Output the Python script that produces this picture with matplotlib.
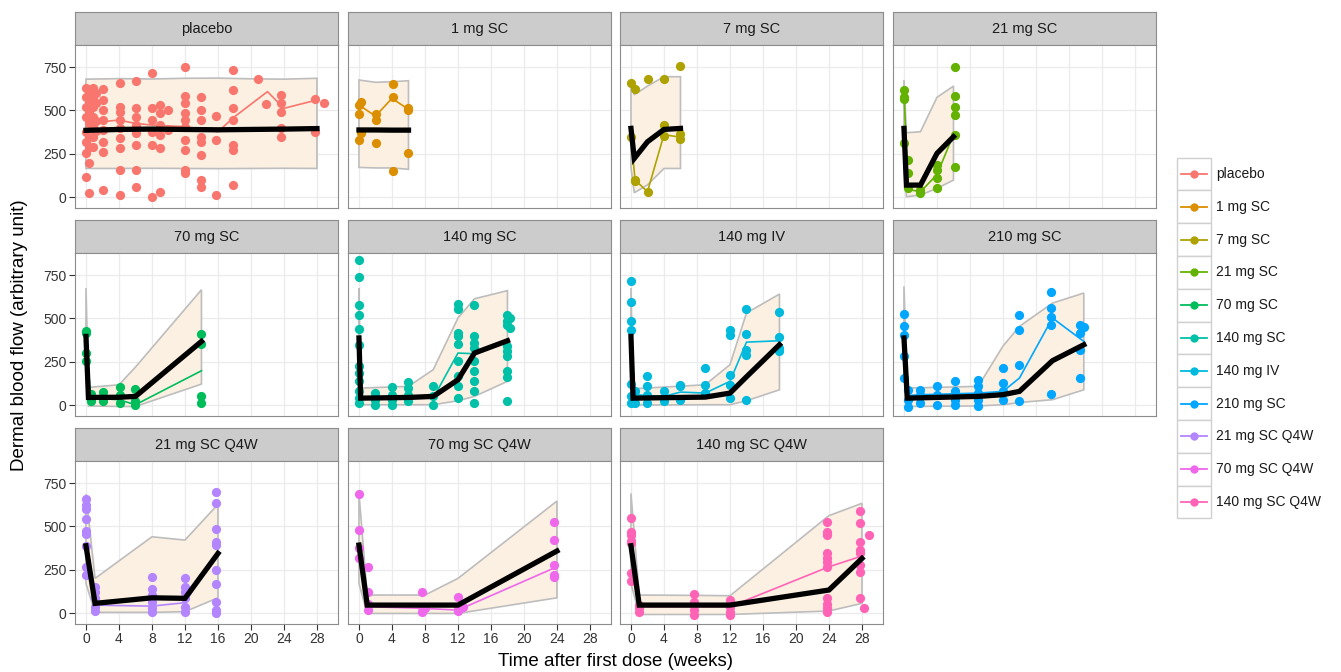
import matplotlib
matplotlib.use("Agg")
import matplotlib.pyplot as plt
from matplotlib.patches import Rectangle

plt.rcParams['font.family'] = ['Liberation Sans', 'DejaVu Sans']

# ---- groups / colours ---------------------------------------------------
groups = ['placebo', '1 mg SC', '7 mg SC', '21 mg SC', '70 mg SC', '140 mg SC',
          '140 mg IV', '210 mg SC', '21 mg SC Q4W', '70 mg SC Q4W', '140 mg SC Q4W']
colors = ['#F8766D', '#DB8E00', '#AEA200', '#64B200', '#00BD5C', '#00C1A7',
          '#00BADE', '#00A6FF', '#B385FF', '#EF67EB', '#FF63B6']

# ---- observed points: time (weeks) -> values ----------------------------
pts_placebo = {
    0.0: [627, 579, 521, 463, 377, 319, 252, 117],
    0.4: [608, 550, 492, 425, 348, 290, 194, 21],
    0.9: [627, 579, 521, 463, 406, 348, 290],
    1.2: [600, 540, 440, 380],
    2.1: [621, 560, 502, 444, 387, 319, 262, 40],
    4.1: [656, 521, 492, 444, 396, 338, 281, 156, 12],
    6.1: [671, 512, 463, 415, 367, 300, 156, 60],
    8.0: [713, 512, 444, 377, 300, 2],
    9.0: [531, 483, 415, 358, 281, 31],
    10.0: [502, 387],
    12.0: [748, 583, 540, 483, 444, 406, 329, 271, 156, 137],
    14.0: [575, 502, 444, 348, 319, 242, 98, 60],
    15.8: [467, 329, 12],
    17.8: [733, 617, 512, 444, 300, 271, 69],
    20.9: [679],
    21.8: [537],
    23.7: [588, 540, 492, 396, 348],
    27.8: [563, 377],
    28.8: [544],
}
pts_1sc = {0.0: [531, 477, 329], 0.3: [550, 367], 2.1: [477, 444, 310],
           4.1: [652, 575, 150], 5.9: [512, 502, 256]}
pts_7sc = {0.0: [656, 344], 0.5: [623, 98, 94], 2.1: [679, 31],
           4.0: [679, 415, 352], 5.9: [756, 362, 333]}
pts_21sc = {0.0: [617, 575, 563, 313], 0.5: [213, 136, 50], 1.9: [25, 40],
            4.0: [185, 156, 108, 50], 6.2: [748, 583, 517, 473, 358, 175]}
pts_70sc = {0.0: [429, 415, 300, 252], 0.6: [63, 21], 2.1: [75, 21],
            4.1: [102, 60, 12], 5.9: [92, 25, -2], 13.9: [410, 352, 50, 12]}
pts_140sc = {
    0.0: [838, 737, 579, 517, 440, 348, 223, 185, 137, 79, 40, 12],
    2.0: [69, 31, 2], 4.0: [102, 60, 31, 2], 6.0: [133, 98, 60, 21],
    9.0: [108, 50, 2],
    12.0: [583, 556, 415, 396, 352, 252, 165, 108, 40],
    13.9: [579, 396, 358, 329, 252, 194, 137, 79, 12],
    17.9: [521, 487, 463, 338, 310, 281, 194, 160, 25],
    18.3: [502, 444],
}
pts_140iv = {
    0.0: [713, 594, 483, 435, 121, 50, 12], 0.5: [79, 12],
    2.0: [165, 108, 60, 12], 4.0: [79, 40, 21], 6.0: [117, 108, 31],
    9.0: [213, 117, 69], 12.0: [435, 406, 175, 117, 40],
    14.0: [556, 410, 319, 290, 31], 18.0: [535, 392, 329, 313],
}
pts_210sc = {
    0.0: [525, 454, 406, 281, 156], 0.5: [88, 31, -13], 2.0: [88, 60, 12],
    4.0: [108, 60, 2], 6.2: [137, 79, 31, -2], 9.0: [146, 108, 69, 31, -8],
    12.0: [213, 127, 79, 31], 13.9: [517, 435, 233, 25],
    17.8: [652, 560, 506, 463, 63], 21.3: [463, 415, 319, 156], 21.8: [448],
}
pts_21q4w = {
    0.0: [658, 623, 598, 540, 473, 454, 388, 267, 219],
    1.1: [152, 123, 85, 37, 12],
    8.0: [210, 138, 104, 65, 31, 8],
    12.0: [200, 152, 123, 85, 37, 8],
    15.8: [700, 637, 485, 408, 392, 248, 165, 65, 17, -2],
}
pts_70q4w = {0.0: [687, 477, 377, 319], 1.05: [267, 123, 52, 17],
             7.7: [119, 37, 8], 8.0: [27], 12.0: [94, 37, 12], 12.6: [37],
             23.7: [527, 423, 277, 219, 210]}
pts_140q4w = {
    0.0: [550, 469, 450, 415, 402, 229, 185], 1.0: [46, 31, 8],
    7.7: [108, 65, 46, 17, -12], 12.0: [75, 37, 8, -12],
    23.8: [527, 465, 450, 344, 315, 296, 267, 85, 50, 31, 8],
    27.8: [588, 517, 410, 363, 344, 277, 238, 85], 28.3: [31], 28.8: [450],
}

# ---- observed median line (thin coloured) --------------------------------
obs_t = [
    [0, 2, 4, 6, 8, 12, 16, 18, 22, 24, 28],
    [0, 2, 4, 6],
    [0, 0.5, 2, 4, 6],
    [0, 0.5, 2, 4, 6],
    [0, 0.6, 4, 6, 14],
    [0, 0.3, 2, 4, 6, 9, 12, 14, 18],
    [0, 0.5, 2, 4, 6, 9, 12, 14, 18],
    [0, 0.5, 2, 4, 6, 9, 12, 14, 18, 21.8],
    [0, 1, 8, 12, 16],
    [0, 1, 8, 12, 24],
    [0, 1, 8, 12, 24, 28],
]
obs_y = [
    [406, 435, 444, 425, 415, 406, 377, 463, 608, 512, 560],
    [531, 467, 569, 506],
    [344, 98, 31, 360, 345],
    [600, 45, 30, 130, 360],
    [360, 40, 31, 2, 198],
    [380, 40, 40, 40, 45, 40, 300, 296, 365],
    [390, 60, 55, 50, 75, 69, 137, 363, 371],
    [390, 55, 60, 62, 65, 69, 79, 156, 502, 367],
    [400, 46, 40, 60, 354],
    [380, 37, 27, 17, 267],
    [388, 37, 37, 37, 267, 329],
]

# ---- model prediction: median + interval ---------------------------------
mod_t = [
    [0, 4, 8, 12, 16, 20, 24, 28],
    [0, 2, 4, 6],
    [0, 0.4, 2, 4, 6],
    [0, 0.3, 2, 4, 6],
    [0, 0.3, 4, 6, 14],
    [0, 0.2, 6, 9, 12, 14, 18],
    [0, 0.25, 9, 12, 14, 18],
    [0, 0.4, 9, 12, 14, 18, 21.8],
    [0, 1.1, 8, 12, 16],
    [0, 1, 8, 12, 24],
    [0, 1, 8, 12, 24, 28],
]
mod_med = [
    [385, 390, 392, 390, 388, 390, 392, 395],
    [387, 387, 386, 386],
    [396, 223, 319, 390, 396],
    [396, 69, 69, 252, 348],
    [396, 44, 45, 50, 367],
    [387, 40, 44, 50, 146, 300, 371],
    [396, 40, 46, 69, 163, 348],
    [387, 40, 50, 60, 79, 256, 348],
    [388, 56, 88, 85, 344],
    [392, 46, 46, 46, 358],
    [388, 46, 46, 46, 133, 315],
]
mod_lo = [
    [165, 165, 166, 165, 164, 165, 166, 165],
    [171, 168, 168, 160],
    [170, 25, 70, 165, 165],
    [170, 2, 12, 50, 98],
    [170, -5, -8, -8, 121],
    [170, 2, 2, 2, 25, 50, 137],
    [170, 0, 2, 2, 25, 88],
    [170, -8, -5, 2, 15, 31, 88],
    [170, 4, 4, 8, 88],
    [170, -2, -2, -2, 88],
    [170, -8, -8, -8, 12, 56],
]
mod_hi = [
    [680, 683, 681, 685, 686, 682, 680, 685],
    [675, 662, 665, 671],
    [665, 590, 640, 694, 694],
    [675, 371, 377, 575, 640],
    [675, 102, 117, 219, 665],
    [675, 98, 108, 204, 502, 613, 660],
    [675, 94, 117, 233, 531, 640],
    [685, 98, 108, 340, 454, 588, 646],
    [685, 200, 440, 421, 627],
    [690, 104, 104, 200, 646],
    [690, 104, 102, 100, 562, 633],
]

points = [pts_placebo, pts_1sc, pts_7sc, pts_21sc, pts_70sc, pts_140sc,
          pts_140iv, pts_210sc, pts_21q4w, pts_70q4w, pts_140q4w]

# ---- layout (pixels) -------------------------------------------------------
W, H = 1341, 672
fig = plt.figure(figsize=(W / 100, H / 100), dpi=100)
col_x = [75, 348, 620, 893]
row_y = [12, 220, 428]
pw, ph, sh = 263, 163, 33
border = '#8C8C8C'


def px_axes(x, y, w, h):
    return fig.add_axes([x / W, 1 - (y + h) / H, w / W, h / H])


for i, name in enumerate(groups):
    r, c = divmod(i, 4)
    col = colors[i]

    # strip
    sax = px_axes(col_x[c], row_y[r], pw, sh)
    sax.set_facecolor('#CCCCCC')
    sax.set_xticks([])
    sax.set_yticks([])
    for s in sax.spines.values():
        s.set_color(border)
        s.set_linewidth(0.8)
    sax.text(0.5, 0.5, name, ha='center', va='center', fontsize=10.5,
             color='#1A1A1A', transform=sax.transAxes)

    # panel
    ax = px_axes(col_x[c], row_y[r] + sh, pw, ph)
    ax.set_xlim(-1.33, 30.55)
    ax.set_ylim(-63, 877)
    ax.set_xticks(range(0, 29, 4))
    ax.set_yticks([0, 250, 500, 750])
    ax.grid(True, color='#EBEBEB', lw=0.9)
    ax.set_axisbelow(True)
    for s in ax.spines.values():
        s.set_color(border)
        s.set_linewidth(0.8)

    show_y = c == 0
    show_x = r == 2
    ax.tick_params(axis='y', left=show_y, labelleft=show_y, length=4,
                   color='#333333', labelsize=10, labelcolor='#333333', pad=2)
    ax.tick_params(axis='x', bottom=show_x, labelbottom=show_x, length=4,
                   color='#333333', labelsize=10, labelcolor='#333333', pad=2)

    # prediction interval
    t = mod_t[i]
    xs = list(t) + list(t[::-1])
    ys = list(mod_hi[i]) + list(mod_lo[i][::-1])
    ax.fill(xs, ys, facecolor='#FCF0E2', edgecolor='#BDBDBD', lw=1.2, zorder=1)

    # observations
    pt_t, pt_v = [], []
    for tk, vals in points[i].items():
        pt_t += [tk] * len(vals)
        pt_v += vals
    ax.scatter(pt_t, pt_v, s=44, color=col, linewidths=0, zorder=3)
    ax.plot(obs_t[i], obs_y[i], color=col, lw=1.2, zorder=4)

    # model median
    ax.plot(t, mod_med[i], color='black', lw=3.8, zorder=5,
            solid_joinstyle='miter')

# axis titles
fig.text(20 / W, 1 - 335 / H, 'Dermal blood flow (arbitrary unit)', rotation=90,
         ha='center', va='center', fontsize=13.5, color='black')
fig.text(615 / W, 1 - 661 / H, 'Time after first dose (weeks)',
         ha='center', va='center', fontsize=13.5, color='black')

# legend
lax = fig.add_axes([0, 0, 1, 1], facecolor='none')
lax.set_xlim(0, W)
lax.set_ylim(H, 0)
lax.axis('off')
for i, name in enumerate(groups):
    yc = 174 + 32.8 * i
    lax.add_patch(Rectangle((1177, yc - 16.4), 34, 32.8, facecolor='white',
                            edgecolor='#D0D0D0', lw=1))
    lax.plot([1181, 1207], [yc, yc], color=colors[i], lw=1.3)
    lax.plot([1194], [yc], 'o', color=colors[i], ms=6, mew=0)
    lax.text(1216, yc, name, ha='left', va='center', fontsize=10, color='#1A1A1A')

fig.savefig('out.png', dpi=100)
